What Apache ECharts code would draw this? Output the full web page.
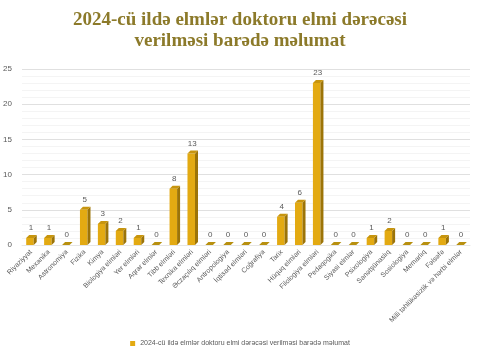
<!DOCTYPE html>
<html><head><meta charset="utf-8">
<script src="https://cdn.jsdelivr.net/npm/echarts@6/dist/echarts.min.js"></script>
<style>html,body{margin:0;padding:0;background:#fff}#c{width:480px;height:360px}</style>
</head><body><div id="c"></div>
<script>
const categories = ["Riyaziyyat","Mexanika","Astronomiya","Fizika","Kimya","Biologiya elmləri","Yer elmləri","Aqrar elmlər","Tibb elmləri","Texnika elmləri","Əczaçılıq elmləri","Antropologiya","İqtisad elmləri","Coğrafiya","Tarix","Hüquq elmləri","Filologiya elmləri","Pedaqogika","Siyasi elmlər","Psixologiya","Sənətşünaslıq","Sosiologiya","Memarlıq","Fəlsəfə","Milli təhlükəsizlik və hərbi elmlər"];
const values = [1,1,0,5,3,2,1,0,8,13,0,0,0,0,4,6,23,0,0,1,2,0,0,1,0];
const yTicks = [0,5,10,15,20,25];
const seriesName = "2024-cü ildə elmlər doktoru elmi dərəcəsi verilməsi barədə məlumat";

const chart = echarts.init(document.getElementById('c'));
chart.setOption({
  animation:false,
  title:{text:"2024-cü ildə elmlər doktoru elmi dərəcəsi\nverilməsi barədə məlumat",left:'center',top:5,
    textStyle:{fontFamily:'Liberation Serif',fontWeight:'bold',fontSize:19,color:'#8C7A2A',lineHeight:21}},
  legend:{bottom:8,left:'center',itemWidth:5,itemHeight:5,icon:'rect',data:[seriesName],
    textStyle:{fontSize:7,color:'#595959',fontFamily:'Liberation Sans'}},
  grid:{left:22,right:10,top:69,height:176},
  xAxis:{type:'category',data:categories,
    axisLine:{show:true,lineStyle:{color:'#e6e6e6'}},axisTick:{show:false},
    axisLabel:{interval:0,rotate:45,fontSize:7,color:'#595959',fontFamily:'Liberation Sans',margin:6}},
  yAxis:{type:'value',min:0,max:25,interval:5,
    axisLabel:{fontSize:8,color:'#595959',fontFamily:'Liberation Sans',margin:10},
    splitLine:{lineStyle:{color:'#e0e0e0'}},
    minorTick:{show:false,splitNumber:5},
    minorSplitLine:{show:true,lineStyle:{color:'#f4f4f4'}}},
  series:[
    {name:seriesName,type:'custom',itemStyle:{color:'#E3AA12'},
     data:values.map((v,i)=>[i,v]),
     renderItem:function(params,api){
       const idx=api.value(0), val=api.value(1);
       const top=api.coord([idx,val]); const base=api.coord([idx,0]);
       const w=api.size([1,0])[0]*0.42; const dx=3, dy=-3;
       const xl=top[0]-w/2-1, xr=top[0]+w/2-1, yt=top[1], yb=base[1];
       const children=[];
       if(val>0){
         children.push({type:'rect',shape:{x:xl,y:yt,width:xr-xl,height:yb-yt},style:{fill:'#E3AA12'}});
         children.push({type:'polygon',shape:{points:[[xr,yt],[xr+dx,yt+dy],[xr+dx,yb+dy],[xr,yb]]},style:{fill:'#9C7408'}});
       }
       children.push({type:'polygon',shape:{points:[[xl,yt],[xl+dx,yt+dy],[xr+dx,yt+dy],[xr,yt]]},style:{fill:val>0?'#C7950E':'#B8900F'}});
       return {type:'group',children:children};
     }},
    {name:'labels',type:'bar',data:values,barWidth:1,itemStyle:{color:'rgba(0,0,0,0)'},silent:true,
     label:{show:true,position:'top',distance:6,fontSize:8,color:'#595959',fontFamily:'Liberation Sans'}}
  ]
});
</script></body></html>
